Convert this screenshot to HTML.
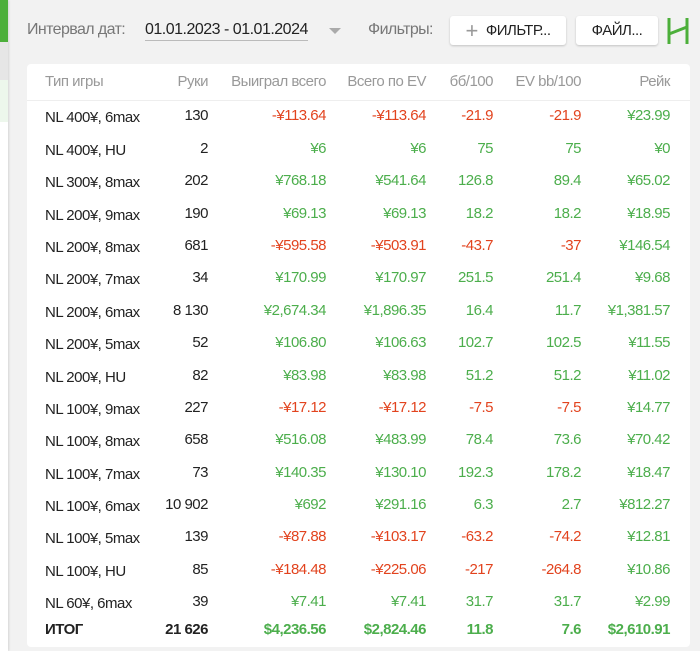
<!DOCTYPE html>
<html><head><meta charset="utf-8"><style>
*{margin:0;padding:0;box-sizing:border-box}
body{width:700px;height:651px;background:#f2f2f2;font-family:"Liberation Sans",sans-serif;position:relative;overflow:hidden}
.strip{position:absolute;left:0;top:0;width:8px;height:651px;background:#fff;box-shadow:1px 0 2px rgba(0,0,0,.12)}
.abs{position:absolute;white-space:nowrap}
.card{position:absolute;left:27px;top:64px;width:663px;height:583px;background:#fff;border-radius:4px}
.t{position:absolute;font-size:15px;letter-spacing:-0.5px;white-space:nowrap}
.r{text-align:right}
.g{color:#4cae4c}.rd{color:#e2431e}.k{color:#222}.h{color:#999}
.btn{position:absolute;background:#fff;border-radius:3px;box-shadow:0 1px 2px rgba(0,0,0,.2);font-size:15px;color:#222;display:flex;align-items:center;justify-content:center}
</style></head><body>
<div class="strip"><div style="height:42px;background:#4caf3a"></div><div style="height:38px;background:#e6e6e6"></div><div style="height:42px;background:#edf7ec"></div></div>
<div class="abs" style="left:27px;top:21px;font-size:16px;color:#777;letter-spacing:-0.6px">Интервал дат:</div>
<div class="abs" style="left:145px;top:21px;font-size:16px;color:#222;letter-spacing:-0.5px;border-bottom:1px solid #bbb;padding-bottom:1px">01.01.2023 - 01.01.2024</div>
<div class="abs" style="left:329px;top:28px;width:0;height:0;border-left:6px solid transparent;border-right:6px solid transparent;border-top:6px solid #aaa"></div>
<div class="abs" style="left:368px;top:21px;font-size:16px;color:#777;letter-spacing:-0.6px">Фильтры:</div>
<div class="btn" style="left:450px;top:16px;width:116px;height:29px;letter-spacing:-0.5px"><span style="color:#999;font-size:22px;margin-right:8px;font-weight:300">+</span>ФИЛЬТР...</div>
<div class="btn" style="left:576px;top:16px;width:82px;height:29px;letter-spacing:-0.5px">ФАЙЛ...</div>
<svg class="abs" style="left:666px;top:16px" width="26" height="30"><path d="M3 2V28M21 2V28M3 18L21 11" stroke="#4caf3a" stroke-width="3" fill="none"/></svg>
<div class="card"></div>
<div class="abs" style="left:27px;top:100px;width:663px;height:1px;background:#eee"></div>
<div id="tb"></div>
<script>
const rows=[["Тип игры","Руки","Выиграл всего","Всего по EV","бб/100","EV bb/100","Рейк"],
["NL 400¥, 6max","130","-¥113.64","-¥113.64","-21.9","-21.9","¥23.99"],
["NL 400¥, HU","2","¥6","¥6","75","75","¥0"],
["NL 300¥, 8max","202","¥768.18","¥541.64","126.8","89.4","¥65.02"],
["NL 200¥, 9max","190","¥69.13","¥69.13","18.2","18.2","¥18.95"],
["NL 200¥, 8max","681","-¥595.58","-¥503.91","-43.7","-37","¥146.54"],
["NL 200¥, 7max","34","¥170.99","¥170.97","251.5","251.4","¥9.68"],
["NL 200¥, 6max","8 130","¥2,674.34","¥1,896.35","16.4","11.7","¥1,381.57"],
["NL 200¥, 5max","52","¥106.80","¥106.63","102.7","102.5","¥11.55"],
["NL 200¥, HU","82","¥83.98","¥83.98","51.2","51.2","¥11.02"],
["NL 100¥, 9max","227","-¥17.12","-¥17.12","-7.5","-7.5","¥14.77"],
["NL 100¥, 8max","658","¥516.08","¥483.99","78.4","73.6","¥70.42"],
["NL 100¥, 7max","73","¥140.35","¥130.10","192.3","178.2","¥18.47"],
["NL 100¥, 6max","10 902","¥692","¥291.16","6.3","2.7","¥812.27"],
["NL 100¥, 5max","139","-¥87.88","-¥103.17","-63.2","-74.2","¥12.81"],
["NL 100¥, HU","85","-¥184.48","-¥225.06","-217","-264.8","¥10.86"],
["NL 60¥, 6max","39","¥7.41","¥7.41","31.7","31.7","¥2.99"],
["ИТОГ","21 626","$4,236.56","$2,824.46","11.8","7.6","$2,610.91"]];
const rights=[208,326,426,493,581,670];
const ys=[73,107,140,172,205,237,269,302,334,367,399,431,464,496,528,561,593,621];
let h="";
rows.forEach((r,i)=>{
 const y=ys[i];const hd=i==0,tot=i==rows.length-1;
 const fw=tot?"font-weight:bold;":"";
 const extra=(i>0&&!tot)?2:0;
 h+=`<div class="t ${hd?'h':'k'}" style="left:45px;top:${y+extra}px;${fw}">${r[0]}</div>`;
 for(let c=1;c<7;c++){
  let cls=hd?'h':(c==1?'k':(r[c].startsWith('-')?'rd':'g'));
  h+=`<div class="t r ${cls}" style="left:${rights[c-1]-150}px;width:150px;top:${y}px;${fw}">${r[c]}</div>`;
 }
});
document.getElementById('tb').innerHTML=h;
</script>
</body></html>
